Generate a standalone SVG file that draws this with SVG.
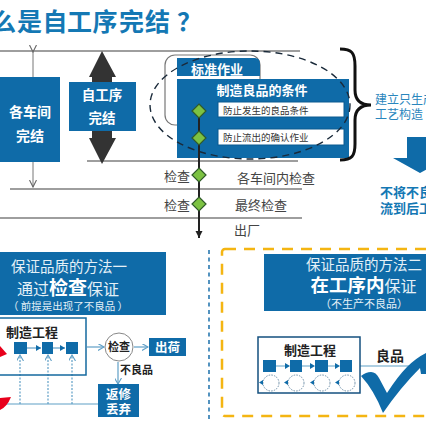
<svg xmlns="http://www.w3.org/2000/svg" width="426" height="426" viewBox="0 0 426 426">
<style>
text{font-family:"Noto Sans CJK SC","Liberation Sans",sans-serif}
.box{fill:#0f6ba8}
.w{fill:#fff;text-anchor:middle}
.wl{fill:#e4f0f7;text-anchor:middle}
.b{font-weight:700}
.g{fill:#444}
.ln{stroke:#7f7f7f;stroke-width:1.5;fill:none}
.ac{stroke:#5f9fc6;stroke-width:1.2;fill:none}
.dt{stroke:#5f9fc6;stroke-width:1.2;stroke-dasharray:2 1.5;fill:none}
.sq{fill:#0f6ba8}
.lp{fill:none;stroke:#6f8fa8;stroke-width:1;stroke-dasharray:1.5 1.2}
.dm{fill:#7cc242;stroke:#2f5a2a;stroke-width:1.2}
.bl{fill:#1478b4;font-weight:700}
</style>
<defs>
<marker id="a" markerWidth="7" markerHeight="7" refX="6" refY="3.5" orient="auto" markerUnits="userSpaceOnUse"><path d="M0 0L6 3.5L0 7" fill="none" stroke="#5f9fc6" stroke-width="1.1"/></marker>
<marker id="g" markerWidth="8" markerHeight="8" refX="7" refY="4" orient="auto" markerUnits="userSpaceOnUse"><path d="M0 0.5L7 4L0 7.5" fill="none" stroke="#666" stroke-width="1.1"/></marker>
<marker id="k" markerWidth="8" markerHeight="8" refX="7" refY="4" orient="auto" markerUnits="userSpaceOnUse"><path d="M0 0.5L7 4L0 7.5z" fill="#222"/></marker>
<marker id="s" markerWidth="6" markerHeight="6" refX="5" refY="3" orient="auto" markerUnits="userSpaceOnUse"><path d="M0 0L5 3L0 6z" fill="#0f6ba8"/></marker>
</defs>
<g id="title"><text x="-9 17 42.500 67 92.500 119 145 177" y="31" font-size="25" font-weight="700" fill="#1478b4">么是自工序完结？</text></g>
<g id="connectors">
<path class="ln" d="M0 51H300M87 161H298M10 189H302M0 218H302"/>
<path d="M33 52V187" stroke="#777" stroke-width="1" fill="none" marker-start="url(#g)" marker-end="url(#g)"/>
<path d="M199 111V238" stroke="#222" stroke-width="2" fill="none" marker-end="url(#k)"/>
<path class="ac" d="M87 347H104" marker-end="url(#a)"/>
<path class="ac" d="M134 347H148" marker-end="url(#a)"/>
<path class="ac" d="M118 362V384" marker-end="url(#a)"/>
<path class="ac" d="M0 404H98"/>
<path class="dt" d="M20 404V355" marker-end="url(#a)"/>
<path class="dt" d="M48 404V355" marker-end="url(#a)"/>
<path class="dt" d="M72 404V355" marker-end="url(#a)"/>
<path d="M27 348H41" stroke="#5f9fc6" stroke-width="1.2" marker-end="url(#s)"/>
<path d="M53 348H65" stroke="#5f9fc6" stroke-width="1.2" marker-end="url(#s)"/>
<path d="M352 366H426" stroke="#5f9fc6" stroke-width="1.2"/>
</g>
<g id="big-arrow"><path fill="#333" d="M102 51L116 77H112V138H116L102 164L89 138H92V77H89Z"/></g>
<g id="workshop"><rect class="box" x="0" y="77" width="60" height="85"/><text class="w b" x="30" y="117" font-size="14">各车间</text><text class="w b" x="30" y="141" font-size="14">完结</text></g>
<g id="process"><rect class="box" x="69" y="82" width="67" height="49"/><text class="w b" x="102" y="100" font-size="13.5">自工序</text><text class="w b" x="102" y="123" font-size="13.5">完结</text></g>
<g id="standard">
<rect x="165" y="55" width="95" height="70" rx="10" fill="#fff" stroke="#777" stroke-width="1.2"/>
<path class="box" d="M177 58H255Q260 58 260 64V76H177Z"/>
<text class="w b" x="217" y="74" font-size="13">标准作业</text>
</g>
<g id="conditions">
<rect class="box" x="177" y="79" width="172" height="79"/>
<text class="w b" x="262" y="95" font-size="13">制造良品的条件</text>
<rect x="218" y="102" width="126" height="15" fill="#fff" stroke="#0a5a90"/>
<text x="223" y="114" font-size="9.5" fill="#333">防止发生的良品条件</text>
<rect x="218" y="129" width="126" height="16" fill="#fff" stroke="#0a5a90"/>
<text x="223" y="141" font-size="9.5" fill="#333">防止流出的确认作业</text>
</g>
<g id="ellipse"><ellipse cx="250" cy="105" rx="100" ry="54" fill="none" stroke="#1a2a3a" stroke-width="1.4" stroke-dasharray="7 5"/></g>
<g id="checks">
<path d="M199 111V160" stroke="#222" stroke-width="2"/>
<path class="dm" d="M199 104L206 111L199 118L192 111Z"/>
<path class="dm" d="M199 131L206 138L199 145L192 138Z"/>
<path class="dm" d="M199 168L206 175L199 182L192 175Z"/>
<path class="dm" d="M199 197L206 204L199 211L192 204Z"/>
<text class="g" x="164" y="181" font-size="13">检查</text>
<text class="g" x="164" y="210" font-size="13">检查</text>
<text class="g" x="237" y="183" font-size="13">各车间内检查</text>
<text class="g" x="235" y="210" font-size="13">最终检查</text>
<text class="g" x="234" y="235" font-size="13">出厂</text>
</g>
<g id="brace"><path d="M340 49C352 49 355 53 355 66V90C355 100 360 105 371 105C360 105 355 110 355 120V144C355 156 352 160 340 160" fill="none" stroke="#111" stroke-width="3"/></g>
<g id="right-note">
<text x="375" y="104" font-size="12" fill="#2a86bd">建立只生产</text>
<text x="375" y="119" font-size="12" fill="#2a86bd">工艺构造</text>
<path class="box" d="M407 137H433V158H447L420 173L393 158H407Z"/>
<text class="bl" x="380" y="197" font-size="13">不将不良</text>
<text class="bl" x="380" y="213" font-size="13">流到后工</text>
</g>
<g id="method1">
<rect class="box" x="0" y="252" width="166" height="63"/>
<text class="wl" x="69" y="272" font-size="14.5">保证品质的方法一</text>
<text class="wl" x="68" y="295" font-size="16">通过<tspan class="b" font-size="19" fill="#fff">检查</tspan>保证</text>
<text class="wl" x="68" y="310" font-size="10.5">（ 前提是出现了不良品 ）</text>
</g>
<g id="flow1">
<rect x="-2" y="318" width="88" height="57" fill="none" stroke="#14699f" stroke-width="1.5"/>
<text x="6" y="337" font-size="13" font-weight="700" fill="#222">制造工程</text>
<rect class="sq" x="14" y="342" width="13" height="12"/>
<rect class="sq" x="42" y="342" width="11" height="12"/>
<rect class="sq" x="66" y="342" width="12" height="12"/>
<path fill="#e8001c" d="M0 346L7 354L0 357Z"/>
<path fill="#e8001c" d="M0 398L11 397Q7 407 0 410Z"/>
</g>
<g id="inspect"><circle cx="119" cy="347" r="14" fill="#fff" stroke="#888"/><text x="119" y="351" font-size="11" font-weight="700" fill="#222" text-anchor="middle">检查</text></g>
<g id="ship"><rect class="box" x="149" y="338" width="37" height="18"/><text class="w b" x="167.500" y="352" font-size="12.5">出荷</text></g>
<g id="defect"><text x="120" y="374" font-size="11" font-weight="700" fill="#222">不良品</text></g>
<g id="rework"><rect class="box" x="98" y="384" width="41" height="33"/><text class="w b" x="118.500" y="399" font-size="12.500">返修</text><text class="w b" x="118.500" y="414" font-size="12.500">丢弃</text></g>
<g id="divider"><path d="M209 250V420" stroke="#2a78b0" stroke-width="1.6" stroke-dasharray="4 3.500" fill="none"/></g>
<g id="method2-frame"><rect x="222" y="249" width="220" height="167" rx="3" fill="none" stroke="#f4b512" stroke-width="2.500" stroke-dasharray="11 8"/></g>
<g id="method2">
<rect class="box" x="264" y="254" width="162" height="57"/>
<text class="wl" x="364" y="270" font-size="14.500">保证品质的方法二</text>
<text class="wl" x="363.500" y="292" font-size="16"><tspan class="b" font-size="18.500" fill="#fff">在工序内</tspan>保证</text>
<text class="wl" x="364" y="308" font-size="11">（不生产不良品）</text>
</g>
<g id="flow2">
<rect x="258" y="337" width="102" height="56" fill="#fff" stroke="#14507f" stroke-width="1.500"/>
<text x="284" y="355" font-size="13" font-weight="700" fill="#222">制造工程</text>
<path d="M276 366H285M302 366H310M328 366H335" stroke="#5f9fc6" stroke-width="1.200"/>
<path class="sq" d="M285 363l5 3l-5 3zM310 363l5 3l-5 3zM335 363l5 3l-5 3z"/>
<rect class="sq" x="263" y="360" width="13" height="12"/>
<rect class="sq" x="290" y="360" width="12" height="12"/>
<rect class="sq" x="315" y="360" width="13" height="12"/>
<rect class="sq" x="340" y="360" width="12" height="12"/>
<circle class="lp" cx="271" cy="383" r="8"/>
<circle class="lp" cx="296" cy="383" r="8"/>
<circle class="lp" cx="322" cy="383" r="8"/>
<circle class="lp" cx="347" cy="383" r="8"/>
<path class="sq" d="M263 380l-4 2.500l4 2.500zM288 380l-4 2.500l4 2.500zM314 380l-4 2.500l4 2.500zM339 380l-4 2.500l4 2.500z"/>
<text x="376" y="361" font-size="14" font-weight="700" fill="#222">良品</text>
</g>
<g id="check"><path fill="#0f6ba8" d="M361 376Q366 372 371 372Q376 372 379 378L387 393Q398 376 407 367Q416 358 426 353V374H421L420 368Q400 388 383 413Q374 390 361 376Z"/></g>
</svg>
